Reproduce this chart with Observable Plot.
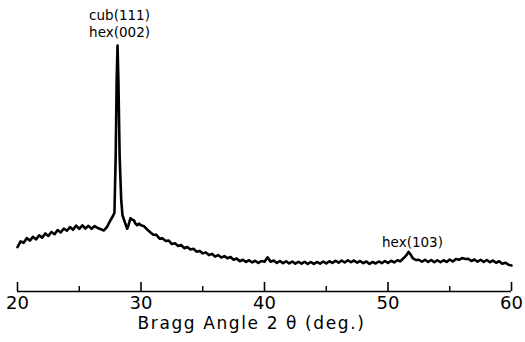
<!DOCTYPE html>
<html><head><meta charset="utf-8">
<script src="https://cdn.jsdelivr.net/npm/d3@7"></script>
<script src="https://cdn.jsdelivr.net/npm/@observablehq/plot@0.6"></script>
<style>body{margin:0;background:#fff}</style>
</head><body><div id="chart"></div>
<script>
const angle = [
20.00,20.25,20.50,20.75,21.00,21.25,21.50,21.75,22.00,22.25,22.50,22.75,23.00,23.25,23.50,23.75,
24.00,24.25,24.50,24.75,25.00,25.25,25.50,25.75,26.00,26.25,26.50,26.75,27.00,27.25,27.50,27.75,
27.85,27.95,28.03,28.10,28.17,28.27,28.40,28.50,28.69,28.88,29.00,29.15,29.30,29.42,29.55,29.69,29.85,
30.00,30.25,30.50,30.75,31.00,31.25,31.50,31.75,32.00,32.25,32.50,32.75,33.00,33.25,33.50,33.75,
34.00,34.25,34.50,34.75,35.00,35.25,35.50,35.75,36.00,36.25,36.50,36.75,37.00,37.25,37.50,37.75,
38.00,38.25,38.50,38.75,39.00,39.25,39.50,39.75,40.00,40.25,40.50,40.75,41.00,41.25,41.50,41.75,
42.00,42.25,42.50,42.75,43.00,43.25,43.50,43.75,44.00,44.25,44.50,44.75,45.00,45.25,45.50,45.75,
46.00,46.25,46.50,46.75,47.00,47.25,47.50,47.75,48.00,48.25,48.50,48.75,49.00,49.25,49.50,49.75,
50.00,50.25,50.50,50.75,51.00,51.25,51.50,51.66,51.85,52.00,52.25,52.50,52.75,53.00,53.25,53.50,53.75,
54.00,54.25,54.50,54.75,55.00,55.25,55.50,55.75,56.00,56.25,56.50,56.75,57.00,57.25,57.50,57.75,
58.00,58.25,58.50,58.75,59.00,59.25,59.50,59.75,60.00
];
const intensity = [
18.0,20.4,19.8,21.7,20.7,22.2,21.2,22.8,21.9,23.6,22.6,24.2,23.3,25.0,24.0,25.6,
24.7,26.2,25.1,26.8,25.5,26.9,25.6,26.7,25.5,26.6,25.8,25.3,24.8,26.3,28.7,30.9,
32.0,55.0,86.0,100.0,86.0,55.0,37.0,31.0,28.2,25.5,27.2,29.8,29.2,29.0,27.6,26.9,27.6,
26.9,26.5,25.2,24.1,23.1,23.0,21.5,21.6,20.5,20.7,19.3,19.6,18.5,18.9,17.6,18.1,
17.1,17.4,16.2,16.5,15.5,15.9,14.8,15.3,14.2,14.8,13.8,14.4,13.5,14.0,12.9,13.4,
12.3,12.9,12.0,12.7,11.8,12.5,11.6,12.4,12.1,13.9,12.1,12.6,11.6,12.4,11.5,12.3,
11.4,12.2,11.3,12.1,11.3,12.1,11.2,12.0,11.2,12.0,11.3,12.2,11.4,12.3,11.6,12.5,
11.7,12.6,11.8,12.7,11.9,12.6,11.7,12.4,11.5,12.2,11.2,12.0,11.4,12.2,11.5,12.4,
11.6,12.5,11.8,12.7,12.3,13.5,14.8,16.1,14.9,13.6,12.8,12.9,12.1,12.9,12.0,12.8,11.9,
12.7,11.9,12.7,12.0,13.0,12.2,13.2,12.9,13.6,13.2,13.3,12.4,13.0,12.1,12.9,12.0,
12.8,11.9,12.6,11.7,12.3,11.3,11.7,10.9,10.6
];
const majorTicks = [20, 30, 40, 50, 60];
const minorTicks = [25, 35, 45, 55];
const peakLabelText = ["cub(111)\nhex(002)", "hex(103)"];
const peakLabelAngle = [28.1, 51.66];
const peakLabelIntensity = [100, 16.1];
const axisTitle = "Bragg Angle 2 θ (deg.)";

const data = angle.map((a, i) => ({angle: a, intensity: intensity[i]}));
const labels = peakLabelText.map((t, i) => ({text: t, angle: peakLabelAngle[i], intensity: peakLabelIntensity[i]}));

const chart = Plot.plot({
  width: 525, height: 342,
  marginLeft: 17, marginRight: 14, marginTop: 45, marginBottom: 51,
  style: {fontFamily: "DejaVu Sans", background: "white", color: "black"},
  x: {domain: [20, 60], label: null},
  y: {domain: [0, 100], axis: null},
  marks: [
    Plot.ruleY([0], {stroke: "black", strokeWidth: 1.6}),
    Plot.axisX(majorTicks, {tickSize: -9, tickFormat: () => "", strokeWidth: 1.6, label: null}),
    Plot.axisX(minorTicks, {tickSize: -5, tickFormat: () => "", strokeWidth: 1.4, label: null}),
    Plot.axisX(majorTicks, {tickSize: 0, tickPadding: 5, fontSize: 18, label: null}),
    Plot.lineY(data, {x: "angle", y: "intensity", stroke: "black", strokeWidth: 2.6, strokeLinejoin: "round"}),
    Plot.text([labels[0]], {x: "angle", y: "intensity", text: "text", lineAnchor: "bottom", dy: -9, dx: 2, fontSize: 13.5, lineHeight: 1.2}),
    Plot.text([labels[1]], {x: "angle", y: "intensity", text: "text", lineAnchor: "bottom", dy: -5, dx: 4, fontSize: 13.5}),
    Plot.text([axisTitle], {text: d => d, frameAnchor: "bottom", dy: 37, dx: -13, fontSize: 17})
  ]
});
d3.select(chart).selectAll("text").filter(function() { return this.textContent === axisTitle; }).style("letter-spacing", "1.6px");
document.getElementById("chart").appendChild(chart);
</script>
</body></html>
